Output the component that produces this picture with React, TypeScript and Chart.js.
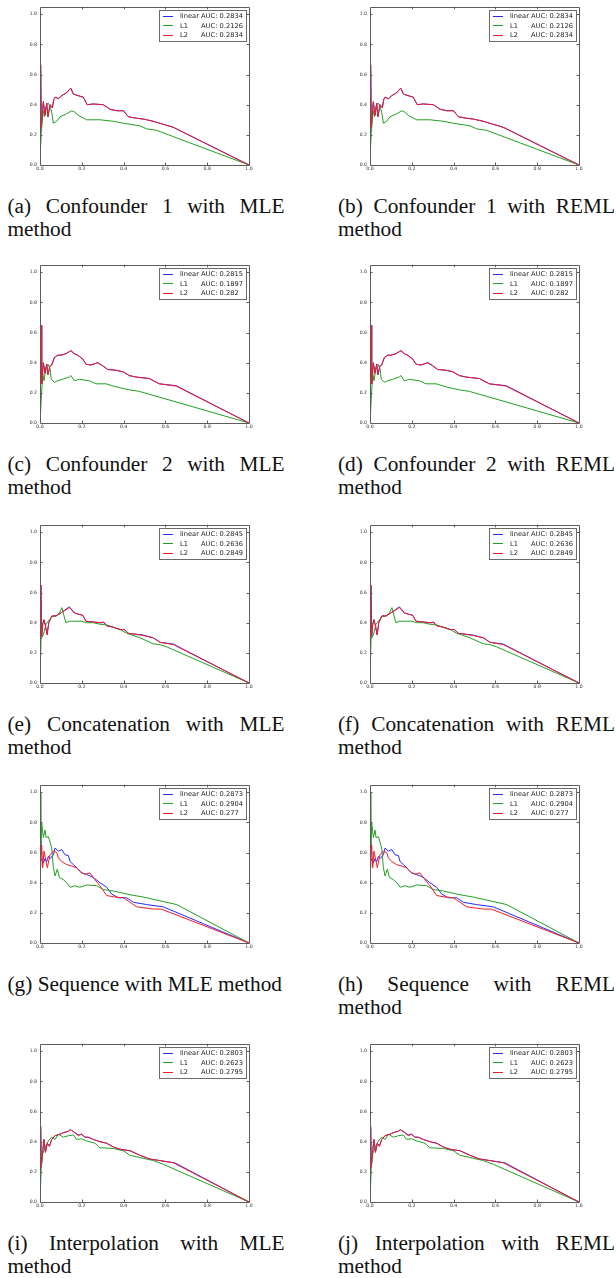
import React, { useEffect, useRef } from "react";
import { Chart, registerables } from "chart.js";

Chart.register(...registerables);

type Pt = [number, number];

// ---------- shared labels ----------
const seriesNames = ["linear", "L1", "L2"];
const seriesColors = ["#2a2aff", "#22a022", "#f21c28"];
const xTicks = [0, 0.2, 0.4, 0.6, 0.8, 1.0];
const yTicks = [0, 0.2, 0.4, 0.6, 0.8, 1.0];

// ---------- Confounder 1 (recall, precision) ----------
const conf1L2: Pt[] = [
  [0.002, 0.26], [0.003, 0.665], [0.006, 0.25], [0.016, 0.42], [0.024, 0.33], [0.032, 0.41],
  [0.038, 0.32], [0.048, 0.40], [0.059, 0.38], [0.066, 0.435], [0.072, 0.45], [0.088, 0.44],
  [0.104, 0.46], [0.128, 0.48], [0.14, 0.50], [0.147, 0.51], [0.16, 0.47], [0.183, 0.46],
  [0.207, 0.45], [0.226, 0.40], [0.255, 0.405], [0.303, 0.40], [0.335, 0.37], [0.367, 0.36],
  [0.399, 0.36], [0.423, 0.32], [0.463, 0.31], [0.494, 0.305], [0.542, 0.29], [0.59, 0.27],
  [0.638, 0.25], [1.0, 0.0],
];
const conf1Linear: Pt[] = conf1L2;
const conf1L1: Pt[] = [
  [0.002, 0.1], [0.006, 0.21], [0.013, 0.33], [0.017, 0.36], [0.021, 0.32], [0.032, 0.40],
  [0.04, 0.41], [0.048, 0.39], [0.056, 0.35], [0.064, 0.277], [0.08, 0.29], [0.096, 0.32],
  [0.128, 0.34], [0.152, 0.36], [0.167, 0.35], [0.183, 0.33], [0.223, 0.30], [0.287, 0.30],
  [0.351, 0.29], [0.399, 0.277], [0.478, 0.26], [0.51, 0.24], [0.558, 0.23], [1.0, 0.0],
];
const conf1Auc = ["0.2834", "0.2126", "0.2834"];

// ---------- Confounder 2 ----------
const conf2L2: Pt[] = [
  [0.003, 0.26], [0.005, 0.65], [0.008, 0.26], [0.016, 0.40], [0.024, 0.33], [0.032, 0.39],
  [0.038, 0.32], [0.048, 0.38], [0.056, 0.385], [0.069, 0.435], [0.085, 0.45], [0.1, 0.45],
  [0.124, 0.46], [0.148, 0.48], [0.164, 0.46], [0.18, 0.45], [0.204, 0.425], [0.22, 0.39],
  [0.244, 0.385], [0.276, 0.40], [0.3, 0.38], [0.324, 0.355], [0.364, 0.35], [0.396, 0.34],
  [0.427, 0.315], [0.459, 0.305], [0.523, 0.295], [0.571, 0.26], [0.651, 0.245], [1.0, 0.0],
];
const conf2Linear: Pt[] = [
  [0.003, 0.26], [0.005, 0.65], [0.008, 0.26], [0.016, 0.40], [0.024, 0.33], [0.032, 0.39],
  [0.038, 0.32], [0.048, 0.38], [0.056, 0.385], [0.069, 0.435], [0.085, 0.45], [0.1, 0.45],
  [0.124, 0.46], [0.148, 0.48], [0.164, 0.46], [0.18, 0.45], [0.204, 0.425], [0.22, 0.39],
  [0.244, 0.385], [0.276, 0.40], [0.3, 0.38], [0.324, 0.355], [0.364, 0.35], [0.396, 0.34],
  [0.427, 0.315], [0.459, 0.305], [0.523, 0.295], [0.571, 0.26], [0.651, 0.248], [1.0, 0.0],
];
const conf2L1: Pt[] = [
  [0.002, 0.05], [0.006, 0.16], [0.013, 0.33], [0.019, 0.28], [0.029, 0.37], [0.038, 0.39],
  [0.048, 0.36], [0.054, 0.29], [0.069, 0.27], [0.085, 0.28], [0.108, 0.29], [0.14, 0.305],
  [0.148, 0.315], [0.164, 0.28], [0.188, 0.29], [0.236, 0.28], [0.268, 0.26], [0.316, 0.26],
  [0.364, 0.24], [0.427, 0.22], [0.475, 0.21], [1.0, 0.0],
];
const conf2Auc = ["0.2815", "0.1897", "0.282"];

// ---------- Concatenation ----------
const concatL2: Pt[] = [
  [0.003, 0.3], [0.004, 0.65], [0.008, 0.31], [0.013, 0.39], [0.019, 0.42], [0.026, 0.38],
  [0.034, 0.32], [0.042, 0.40], [0.057, 0.445], [0.077, 0.445], [0.1, 0.465], [0.14, 0.50],
  [0.148, 0.49], [0.164, 0.465], [0.188, 0.455], [0.204, 0.45], [0.22, 0.41], [0.287, 0.40],
  [0.305, 0.405], [0.319, 0.38], [0.351, 0.37], [0.383, 0.355], [0.403, 0.355], [0.423, 0.33],
  [0.494, 0.315], [0.542, 0.30], [0.574, 0.27], [0.638, 0.255], [1.0, 0.0],
];
const concatLinear: Pt[] = [
  [0.003, 0.3], [0.004, 0.65], [0.008, 0.31], [0.013, 0.39], [0.019, 0.42], [0.026, 0.38],
  [0.034, 0.32], [0.042, 0.40], [0.057, 0.445], [0.077, 0.445], [0.1, 0.465], [0.14, 0.505],
  [0.148, 0.495], [0.164, 0.465], [0.188, 0.455], [0.204, 0.45], [0.22, 0.41], [0.287, 0.40],
  [0.305, 0.40], [0.319, 0.38], [0.351, 0.37], [0.383, 0.355], [0.403, 0.355], [0.423, 0.33],
  [0.494, 0.318], [0.542, 0.30], [0.574, 0.27], [0.638, 0.258], [1.0, 0.0],
];
const concatL1: Pt[] = [
  [0.002, 0.14], [0.005, 0.29], [0.016, 0.32], [0.029, 0.39], [0.045, 0.42], [0.058, 0.44],
  [0.077, 0.445], [0.093, 0.465], [0.105, 0.50], [0.115, 0.445], [0.124, 0.40], [0.14, 0.41],
  [0.17, 0.41], [0.2, 0.41], [0.223, 0.40], [0.255, 0.40], [0.287, 0.39], [0.32, 0.385],
  [0.351, 0.37], [0.383, 0.355], [0.415, 0.33], [0.478, 0.30], [0.542, 0.26], [0.574, 0.255],
  [0.606, 0.24], [1.0, 0.0],
];
const concatAuc = ["0.2845", "0.2636", "0.2849"];

// ---------- Sequence ----------
const seqLinear: Pt[] = [
  [0.005, 0.56], [0.008, 0.56], [0.016, 0.53], [0.024, 0.56], [0.032, 0.54], [0.04, 0.575],
  [0.048, 0.56], [0.064, 0.585], [0.072, 0.63], [0.088, 0.61], [0.104, 0.62], [0.12, 0.585],
  [0.136, 0.58], [0.144, 0.54], [0.16, 0.52], [0.183, 0.49], [0.199, 0.465], [0.223, 0.455],
  [0.255, 0.435], [0.287, 0.40], [0.319, 0.37], [0.343, 0.325], [0.375, 0.30], [0.415, 0.30],
  [0.447, 0.27], [0.51, 0.255], [0.59, 0.24], [1.0, 0.0],
];
const seqL1: Pt[] = [
  [0.002, 1.0], [0.004, 0.63], [0.008, 0.80], [0.016, 0.70], [0.024, 0.75], [0.029, 0.70],
  [0.04, 0.705], [0.048, 0.67], [0.056, 0.63], [0.064, 0.50], [0.072, 0.445], [0.083, 0.49],
  [0.093, 0.435], [0.112, 0.42], [0.128, 0.40], [0.144, 0.37], [0.167, 0.38], [0.191, 0.37],
  [0.223, 0.385], [0.271, 0.38], [0.303, 0.355], [0.351, 0.345], [0.383, 0.335], [0.431, 0.32],
  [0.494, 0.305], [0.574, 0.28], [0.654, 0.255], [1.0, 0.0],
];
const seqL2: Pt[] = [
  [0.003, 0.50], [0.008, 0.65], [0.013, 0.50], [0.019, 0.61], [0.029, 0.54], [0.035, 0.50],
  [0.048, 0.585], [0.064, 0.61], [0.08, 0.60], [0.088, 0.565], [0.104, 0.54], [0.128, 0.52],
  [0.152, 0.51], [0.175, 0.50], [0.191, 0.475], [0.215, 0.455], [0.239, 0.465], [0.263, 0.42],
  [0.287, 0.38], [0.319, 0.315], [0.359, 0.305], [0.399, 0.30], [0.431, 0.27], [0.463, 0.24],
  [0.542, 0.225], [0.58, 0.225], [1.0, 0.0],
];
const seqAuc = ["0.2873", "0.2904", "0.277"];

// ---------- Interpolation ----------
const interpL2: Pt[] = [
  [0.002, 0.25], [0.003, 0.50], [0.006, 0.23], [0.013, 0.34], [0.019, 0.415], [0.026, 0.33],
  [0.035, 0.39], [0.045, 0.37], [0.056, 0.415], [0.072, 0.44], [0.096, 0.45], [0.112, 0.46],
  [0.136, 0.47], [0.145, 0.48], [0.167, 0.46], [0.183, 0.44], [0.199, 0.45], [0.215, 0.43],
  [0.231, 0.43], [0.255, 0.415], [0.287, 0.40], [0.319, 0.39], [0.351, 0.365], [0.383, 0.35],
  [0.431, 0.34], [0.478, 0.31], [0.526, 0.285], [0.574, 0.275], [0.638, 0.26], [1.0, 0.0],
];
const interpLinear: Pt[] = [
  [0.002, 0.25], [0.003, 0.50], [0.006, 0.23], [0.013, 0.34], [0.019, 0.415], [0.026, 0.33],
  [0.035, 0.39], [0.045, 0.37], [0.056, 0.415], [0.072, 0.44], [0.096, 0.45], [0.112, 0.46],
  [0.136, 0.47], [0.145, 0.48], [0.167, 0.46], [0.183, 0.445], [0.199, 0.45], [0.215, 0.43],
  [0.231, 0.43], [0.255, 0.415], [0.287, 0.40], [0.319, 0.39], [0.351, 0.365], [0.383, 0.35],
  [0.431, 0.34], [0.478, 0.31], [0.526, 0.285], [0.574, 0.275], [0.645, 0.26], [1.0, 0.0],
];
const interpL1: Pt[] = [
  [0.002, 0.08], [0.006, 0.23], [0.013, 0.32], [0.024, 0.36], [0.04, 0.405], [0.056, 0.43],
  [0.072, 0.415], [0.088, 0.45], [0.112, 0.43], [0.136, 0.44], [0.16, 0.445], [0.175, 0.415],
  [0.199, 0.42], [0.223, 0.405], [0.263, 0.39], [0.287, 0.36], [0.351, 0.355], [0.399, 0.34],
  [0.431, 0.31], [0.478, 0.295], [0.542, 0.275], [0.59, 0.25], [1.0, 0.0],
];
const interpAuc = ["0.2803", "0.2623", "0.2795"];

const captions = [
  "(a) Confounder 1 with MLE method",
  "(b) Confounder 1 with REML method",
  "(c) Confounder 2 with MLE method",
  "(d) Confounder 2 with REML method",
  "(e) Concatenation with MLE method",
  "(f) Concatenation with REML method",
  "(g) Sequence with MLE method",
  "(h) Sequence with REML method",
  "(i) Interpolation with MLE method",
  "(j) Interpolation with REML method",
];

const rowSeries: Pt[][][] = [
  [conf1Linear, conf1L1, conf1L2],
  [conf2Linear, conf2L1, conf2L2],
  [concatLinear, concatL1, concatL2],
  [seqLinear, seqL1, seqL2],
  [interpLinear, interpL1, interpL2],
];
const rowAuc = [conf1Auc, conf2Auc, concatAuc, seqAuc, interpAuc];

// ---------- layout ----------
const ROW_TOPS = [5, 263, 523, 783, 1042];
const PLOT_LEFTS = [40, 370];
const CAPTION_LEFTS = [7.5, 338];
const CANVAS_W = 237;
const CANVAS_H = 178;

const framePlugin = {
  id: "frameTicks",
  afterDraw(chart: any) {
    const { ctx, chartArea, scales } = chart;
    const { left, right, top, bottom } = chartArea;
    ctx.save();
    ctx.strokeStyle = "#5c5c5c";
    ctx.lineWidth = 1;
    ctx.beginPath();
    ctx.rect(Math.round(left) + 0.5, Math.round(top) + 0.5, Math.round(right - left), Math.round(bottom - top));
    ctx.stroke();
    ctx.beginPath();
    xTicks.slice(1, -1).forEach((v) => {
      const px = Math.round(scales.x.getPixelForValue(v)) + 0.5;
      ctx.moveTo(px, bottom);
      ctx.lineTo(px, bottom - 2.5);
      ctx.moveTo(px, top);
      ctx.lineTo(px, top + 2.5);
    });
    yTicks.slice(1).forEach((v) => {
      const py = Math.round(scales.y.getPixelForValue(v)) + 0.5;
      ctx.moveTo(left, py);
      ctx.lineTo(left + 2.5, py);
      ctx.moveTo(right, py);
      ctx.lineTo(right - 2.5, py);
    });
    ctx.stroke();
    ctx.restore();
  },
};

function makeLegendPlugin(auc: string[]) {
  return {
    id: "aucLegend",
    afterDraw(chart: any) {
      const { ctx, chartArea } = chart;
      const { right, top } = chartArea;
      const bx = Math.round(right) - 90;
      const by = Math.round(top) + 3;
      const bw = 87;
      const bh = 31;
      ctx.save();
      ctx.fillStyle = "#ffffff";
      ctx.fillRect(bx, by, bw, bh);
      ctx.strokeStyle = "#6a6a6a";
      ctx.lineWidth = 1;
      ctx.strokeRect(bx + 0.5, by + 0.5, bw, bh);
      ctx.font = "6.7px 'DejaVu Sans'";
      ctx.textBaseline = "middle";
      ctx.textAlign = "left";
      const nameX = bx + 21;
      const aucX = nameX + ctx.measureText(seriesNames[0] + " ").width;
      seriesNames.forEach((name, i) => {
        const cy = by + 6 + i * 9.35;
        const ly = Math.round(cy) + 0.5;
        ctx.strokeStyle = seriesColors[i];
        ctx.lineWidth = 1;
        ctx.beginPath();
        ctx.moveTo(bx + 4, ly);
        ctx.lineTo(bx + 14, ly);
        ctx.stroke();
        ctx.fillStyle = "#222222";
        ctx.fillText(name, nameX, cy + 0.5);
        ctx.fillText("AUC: " + auc[i], aucX, cy + 0.5);
      });
      ctx.restore();
    },
  };
}

function PRChart(props: { series: Pt[][]; auc: string[]; left: number; top: number }) {
  const ref = useRef<HTMLCanvasElement>(null);
  useEffect(() => {
    if (!ref.current) return;
    const tickFont = { size: 4.6, family: "'DejaVu Sans'" };
    const chart = new Chart(ref.current, {
      type: "line",
      data: {
        datasets: props.series.map((pts, i) => ({
          label: seriesNames[i],
          data: pts.map(([x, y]) => ({ x, y })),
          borderColor: seriesColors[i],
          backgroundColor: seriesColors[i],
          borderWidth: 1,
          pointRadius: 0,
          fill: false,
          tension: 0,
          order: 2 - i,
        })),
      },
      options: {
        responsive: false,
        animation: false,
        events: [],
        layout: { padding: { top: 4, right: 8, left: 0, bottom: 0 } },
        plugins: {
          legend: { display: false },
          tooltip: { enabled: false },
          title: { display: false },
        },
        scales: {
          x: {
            type: "linear",
            min: 0,
            max: 1,
            afterBuildTicks: (s: any) => {
              s.ticks = xTicks.map((v) => ({ value: v }));
            },
            afterFit: (s: any) => {
              s.height = 14;
            },
            grid: { display: false, drawTicks: false },
            border: { display: false },
            ticks: {
              font: tickFont,
              color: "#333333",
              padding: 1.5,
              maxRotation: 0,
              autoSkip: false,
              callback: (v: any) => Number(v).toFixed(1),
            },
          },
          y: {
            type: "linear",
            min: 0,
            max: 1.05,
            afterBuildTicks: (s: any) => {
              s.ticks = yTicks.map((v) => ({ value: v }));
            },
            afterFit: (s: any) => {
              s.width = 20;
            },
            grid: { display: false, drawTicks: false },
            border: { display: false },
            ticks: {
              font: tickFont,
              color: "#333333",
              padding: 3,
              autoSkip: false,
              callback: (v: any) => Number(v).toFixed(1),
            },
          },
        },
      } as any,
      plugins: [framePlugin, makeLegendPlugin(props.auc)],
    });
    return () => chart.destroy();
  }, []);
  return (
    <canvas
      ref={ref}
      width={CANVAS_W}
      height={CANVAS_H}
      style={{ position: "absolute", left: props.left, top: props.top, width: CANVAS_W, height: CANVAS_H }}
    />
  );
}

export default function App() {
  const items: React.ReactNode[] = [];
  ROW_TOPS.forEach((rowTop, r) => {
    [0, 1].forEach((c) => {
      const idx = r * 2 + c;
      items.push(
        <PRChart
          key={"chart" + idx}
          series={rowSeries[r]}
          auc={rowAuc[r]}
          left={PLOT_LEFTS[c] - 20}
          top={rowTop - 4}
        />
      );
      items.push(
        <div
          key={"cap" + idx}
          style={{
            position: "absolute",
            left: CAPTION_LEFTS[c],
            top: rowTop + 190,
            width: 277,
            fontFamily: "'Liberation Serif', 'Times New Roman', serif",
            fontSize: "21.3px",
            lineHeight: "23px",
            textAlign: "justify",
            color: "#111111",
          }}
        >
          {captions[idx]}
        </div>
      );
    });
  });
  return (
    <div
      style={{
        position: "absolute",
        left: 0,
        top: 0,
        width: 616,
        height: 1278,
        background: "#ffffff",
        overflow: "hidden",
      }}
    >
      {items}
    </div>
  );
}
